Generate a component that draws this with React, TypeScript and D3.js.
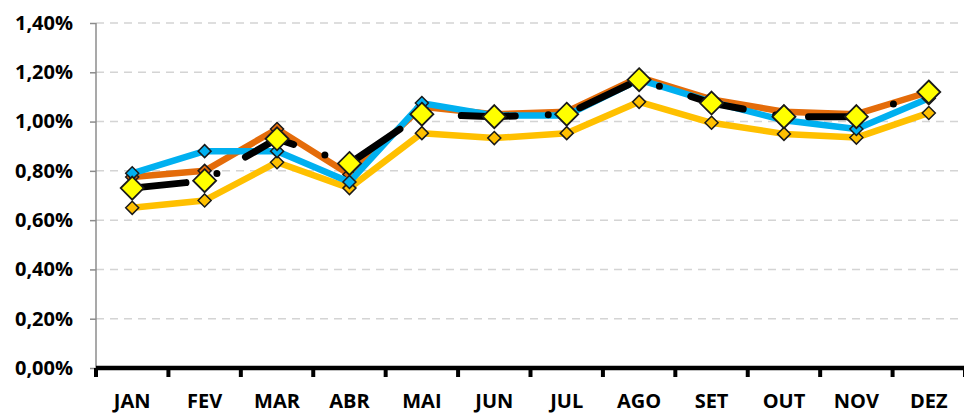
import React, { useEffect, useRef } from "react";
import * as d3 from "d3";

// months on the x axis
const months = ["JAN", "FEV", "MAR", "ABR", "MAI", "JUN", "JUL", "AGO", "SET", "OUT", "NOV", "DEZ"];
// y axis ticks (percent)
const yTicks = [0, 0.2, 0.4, 0.6, 0.8, 1.0, 1.2, 1.4];

// series values (%)
const blueValues = [0.79, 0.88, 0.88, 0.755, 1.075, 1.025, 1.025, 1.17, 1.08, 1.005, 0.97, 1.095];
const orangeValues = [0.775, 0.8, 0.97, 0.785, 1.06, 1.03, 1.04, 1.18, 1.09, 1.04, 1.03, 1.12];
const goldValues = [0.65, 0.68, 0.835, 0.73, 0.953, 0.933, 0.953, 1.08, 0.995, 0.95, 0.935, 1.035];
const blackValues = [0.73, 0.76, 0.93, 0.83, 1.03, 1.02, 1.03, 1.17, 1.075, 1.02, 1.02, 1.12];

export default function App() {
	const svgRef = useRef(null);

	useEffect(() => {
		const W = 964;
		const H = 413;
		const margin = { top: 23, right: -1, bottom: 45, left: 96 };
		const width = W - margin.left - margin.right;
		const height = H - margin.top - margin.bottom;

		const root = d3.select(svgRef.current).attr("width", W).attr("height", H);
		const svg = root.append("g").attr("transform", `translate(${margin.left},${margin.top})`);

		const x = d3.scaleBand().domain(months).range([0, width]);
		const cx = (m) => x(m) + x.bandwidth() / 2;
		const y = d3.scaleLinear().domain([0, 1.4]).range([height, 0]);
		const fmt = (d) => d.toFixed(2).replace(".", ",") + "%";

		// gridlines
		svg.append("g")
			.selectAll("line")
			.data(yTicks.slice(1))
			.join("line")
			.attr("x1", 0)
			.attr("x2", width)
			.attr("y1", (d) => y(d))
			.attr("y2", (d) => y(d))
			.attr("stroke", "#d4d4d4")
			.attr("stroke-width", 1.5)
			.attr("stroke-dasharray", "8 6");

		// y axis
		const yAxis = svg.append("g").call(d3.axisLeft(y).tickValues(yTicks).tickFormat(fmt).tickSize(6).tickPadding(17));
		yAxis.select(".domain").attr("stroke", "#8c8c8c").attr("stroke-width", 1.5).attr("d", `M0,0V${height + 3}`);
		yAxis.selectAll(".tick line").attr("stroke", "#8c8c8c").attr("stroke-width", 1.5);
		yAxis.selectAll(".tick text")
			.attr("fill", "#000")
			.style("font-family", "'Open Sans', sans-serif")
			.style("font-weight", 700)
			.style("font-size", "20px");

		// x axis
		const xAxis = svg.append("g")
			.attr("transform", `translate(0,${height})`)
			.call(d3.axisBottom(x).tickSize(0).tickPadding(26));
		xAxis.select(".domain").remove();
		xAxis.selectAll(".tick text")
			.attr("fill", "#000")
			.style("font-family", "'Open Sans', sans-serif")
			.style("font-weight", 700)
			.style("font-size", "20px");
		xAxis.append("line")
			.attr("x1", 0)
			.attr("x2", width)
			.attr("stroke", "#000")
			.attr("stroke-width", 4.5);
		xAxis.selectAll(".tickmark")
			.data(d3.range(months.length + 1))
			.join("line")
			.attr("class", "tickmark")
			.attr("x1", (i) => (i === 0 ? 0 : x(months[i - 1]) + x.bandwidth()))
			.attr("x2", (i) => (i === 0 ? 0 : x(months[i - 1]) + x.bandwidth()))
			.attr("y1", 0)
			.attr("y2", 9)
			.attr("stroke", "#000")
			.attr("stroke-width", 4);

		const line = d3
			.line()
			.x((d, i) => cx(months[i]))
			.y((d) => y(d));

		const diamond = (r) => `M0,${-r}L${r},0L0,${r}L${-r},0Z`;

		const series = [
			{ values: goldValues, color: "#FFC000" },
			{ values: orangeValues, color: "#E46C0A" },
			{ values: blueValues, color: "#00B0F0" },
		];

		series.forEach((s) => {
			svg.append("path")
				.datum(s.values)
				.attr("d", line)
				.attr("fill", "none")
				.attr("stroke", s.color)
				.attr("stroke-width", 6.5)
				.attr("stroke-linejoin", "round");
			svg.append("g")
				.selectAll("path")
				.data(s.values)
				.join("path")
				.attr("transform", (d, i) => `translate(${cx(months[i])},${y(d)})`)
				.attr("d", diamond(6.5))
				.attr("fill", s.color)
				.attr("stroke", "#1a1a1a")
				.attr("stroke-width", 1.5);
		});

		// black long-dash-dot line
		svg.append("path")
			.datum(blackValues)
			.attr("d", line)
			.attr("fill", "none")
			.attr("stroke", "#000")
			.attr("stroke-width", 7)
			.attr("stroke-linecap", "round")
			.attr("stroke-linejoin", "round")
			.attr("stroke-dasharray", "54 33 0 33");

		// yellow diamonds
		svg.append("g")
			.selectAll("path")
			.data(blackValues)
			.join("path")
			.attr("transform", (d, i) => `translate(${cx(months[i])},${y(d)})`)
			.attr("d", diamond(11.5))
			.attr("fill", "#FFFF00")
			.attr("stroke", "#1a1a1a")
			.attr("stroke-width", 1.8);

		return () => {
			d3.select(svgRef.current).selectAll("*").remove();
		};
	}, []);

	return (
		<div style={{ position: "absolute", left: 0, top: 0 }}>
			<svg ref={svgRef} style={{ display: "block" }}></svg>
		</div>
	);
}
